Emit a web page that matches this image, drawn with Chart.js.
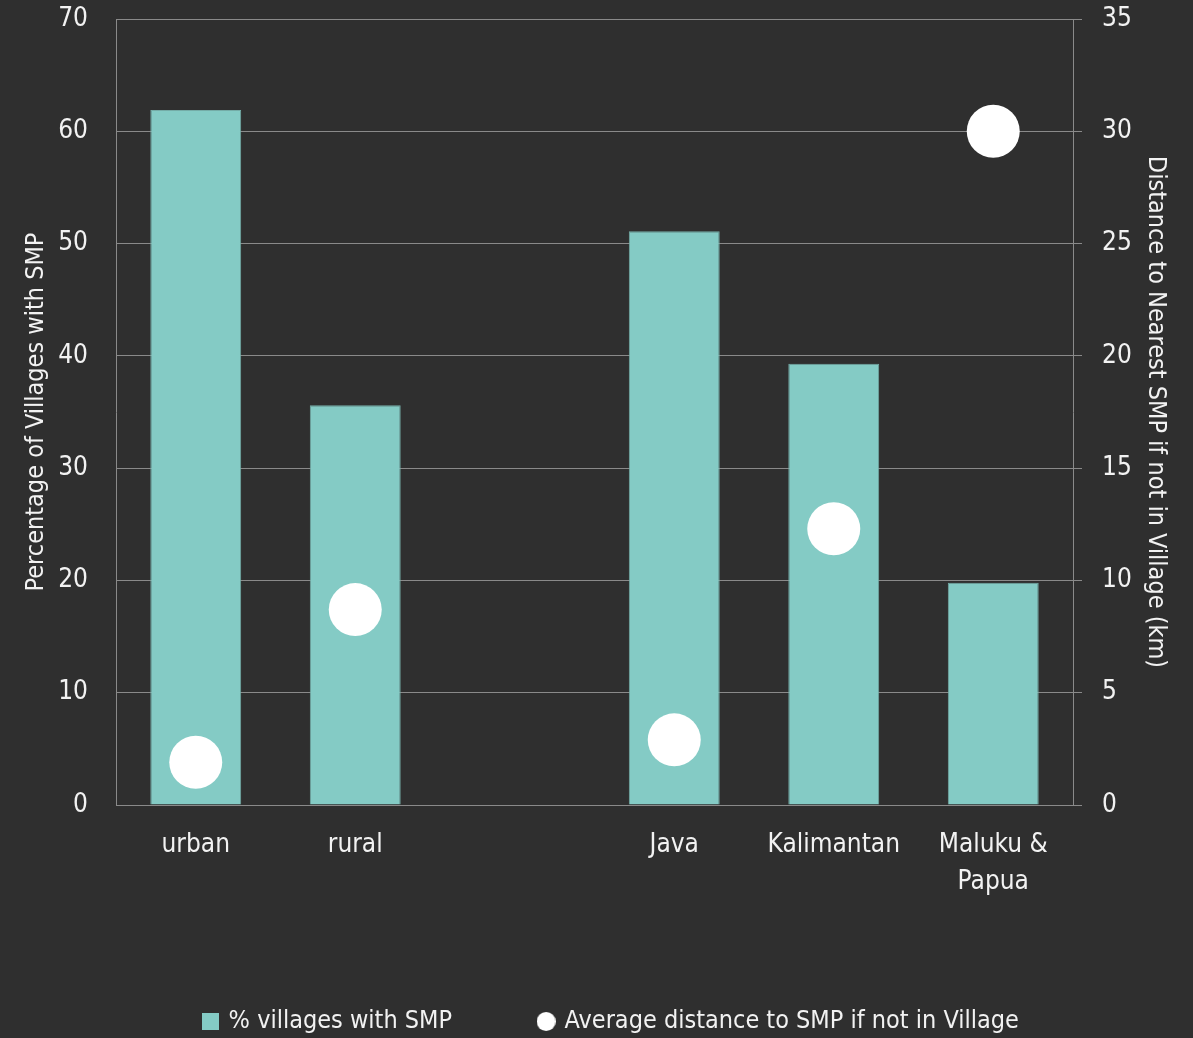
<!DOCTYPE html>
<html>
<head>
<meta charset="utf-8">
<script src="https://cdn.jsdelivr.net/npm/chart.js@4.4.1/dist/chart.umd.min.js"></script>
<style>
  html, body { margin: 0; padding: 0; background: #2f2f2f; }
  #wrap { width: 1193px; height: 1038px; position: relative; }
</style>
</head>
<body>
<div id="wrap"><canvas id="chart"></canvas></div>
<script>
// Categories (blank slot separates the urban/rural split from the regions)
const categories = ['urban', 'rural', '', 'Java', 'Kalimantan', ['Maluku &', 'Papua']];
// Share of villages that have an SMP (%)
const pctVillagesWithSMP = [61.9, 35.6, null, 51.1, 39.3, 19.8];
// Average distance to the nearest SMP when none is in the village (km)
const avgDistanceKm = [1.9, 8.7, null, 2.9, 12.3, 30.0];
// Axis ticks
const leftTicks = [0, 10, 20, 30, 40, 50, 60, 70];
const rightTicks = [0, 5, 10, 15, 20, 25, 30, 35];

const FONT = "'Liberation Sans Narrow', 'DejaVu Sans Condensed', 'Arial Narrow', sans-serif";
const TEXT = '#f2f2f2';
const GRID = '#8a8a8a';
const TEAL = '#84cbc5';

// Legend markers: teal square and white dot
function marker(kind) {
  const c = document.createElement('canvas');
  const s = kind === 'rect' ? 17 : 19;
  c.width = s; c.height = s;
  const g = c.getContext('2d');
  if (kind === 'rect') {
    g.fillStyle = TEAL; g.fillRect(0, 0, s, s);
  } else {
    g.fillStyle = '#ffffff'; g.beginPath(); g.arc(s / 2, s / 2, s / 2, 0, Math.PI * 2); g.fill();
  }
  return c;
}
const squareMark = marker('rect');
const dotMark = marker('circle');

// Fixed axis box sizes so the plot area lines up with the tick columns
function fixVertical(width) {
  return (scale) => {
    scale.width = width;
    scale.paddingTop = 0;
    scale.paddingBottom = 0;
  };
}

// Nudge the legend row a little to the right of centre
const legendShift = {
  id: 'legendShift',
  afterLayout(chart) {
    if (chart.legend) {
      chart.legend.left += 15;
      chart.legend.right += 15;
    }
  }
};

new Chart(document.getElementById('chart'), {
  data: {
    labels: categories,
    datasets: [
      {
        type: 'bar',
        label: '% villages with SMP',
        data: pctVillagesWithSMP,
        backgroundColor: TEAL,
        borderColor: '#74aca7',
        borderWidth: 1,
        yAxisID: 'y',
        order: 1,
        categoryPercentage: 1.0,
        barPercentage: 0.57
      },
      {
        type: 'line',
        label: 'Average distance to SMP if not in Village',
        data: avgDistanceKm,
        showLine: false,
        pointStyle: 'circle',
        pointRadius: 26.5,
        pointHoverRadius: 26.5,
        pointBackgroundColor: '#ffffff',
        pointBorderColor: '#ffffff',
        pointBorderWidth: 0,
        backgroundColor: '#ffffff',
        borderColor: '#ffffff',
        yAxisID: 'y1',
        order: 0,
        clip: false
      }
    ]
  },
  plugins: [legendShift],
  options: {
    responsive: true,
    maintainAspectRatio: false,
    animation: false,
    layout: { autoPadding: false, padding: { top: 19, left: 0, right: 0, bottom: -6 } },
    plugins: {
      tooltip: { enabled: false },
      legend: {
        position: 'bottom',
        labels: {
          color: TEXT,
          font: { family: FONT, size: 25 },
          usePointStyle: true,
          boxWidth: 12,
          boxHeight: 18,
          padding: 88,
          sort: (a, b) => a.datasetIndex - b.datasetIndex,
          generateLabels: (chart) => {
            const items = Chart.defaults.plugins.legend.labels.generateLabels(chart);
            items.forEach(it => {
              it.pointStyle = it.datasetIndex === 0 ? squareMark : dotMark;
              it.lineWidth = 0;
            });
            return items;
          }
        }
      }
    },
    scales: {
      x: {
        grid: { display: false, drawTicks: false },
        border: { display: true, color: GRID, width: 1 },
        ticks: {
          color: TEXT,
          font: { family: FONT, size: 26, lineHeight: 1.42 },
          padding: 22,
          maxRotation: 0,
          autoSkip: false
        },
        afterFit: (scale) => {
          scale.height = 116;
          scale.paddingLeft = 0;
          scale.paddingRight = 0;
        }
      },
      y: {
        position: 'left',
        min: 0, max: 70,
        afterBuildTicks: (scale) => { scale.ticks = leftTicks.map(v => ({ value: v })); },
        afterFit: fixVertical(116),
        grid: { color: GRID, lineWidth: 1, drawTicks: false },
        border: { display: true, color: GRID, width: 1 },
        ticks: { color: TEXT, font: { family: FONT, size: 26 }, padding: 28 },
        title: {
          display: true,
          text: 'Percentage of Villages with SMP',
          color: TEXT,
          font: { family: FONT, size: 25 },
          padding: { top: 21, bottom: 0 }
        }
      },
      y1: {
        position: 'right',
        min: 0, max: 35,
        afterBuildTicks: (scale) => { scale.ticks = rightTicks.map(v => ({ value: v })); },
        afterFit: fixVertical(120),
        grid: { drawOnChartArea: false, color: GRID, lineWidth: 1, drawTicks: true, tickLength: 9 },
        border: { display: true, color: GRID, width: 1 },
        ticks: { color: TEXT, font: { family: FONT, size: 26 }, padding: 20 },
        title: {
          display: true,
          text: 'Distance to Nearest SMP if not in Village (km)',
          color: TEXT,
          font: { family: FONT, size: 25 },
          padding: { top: 23, bottom: 0 }
        }
      }
    }
  }
});
</script>
</body>
</html>
